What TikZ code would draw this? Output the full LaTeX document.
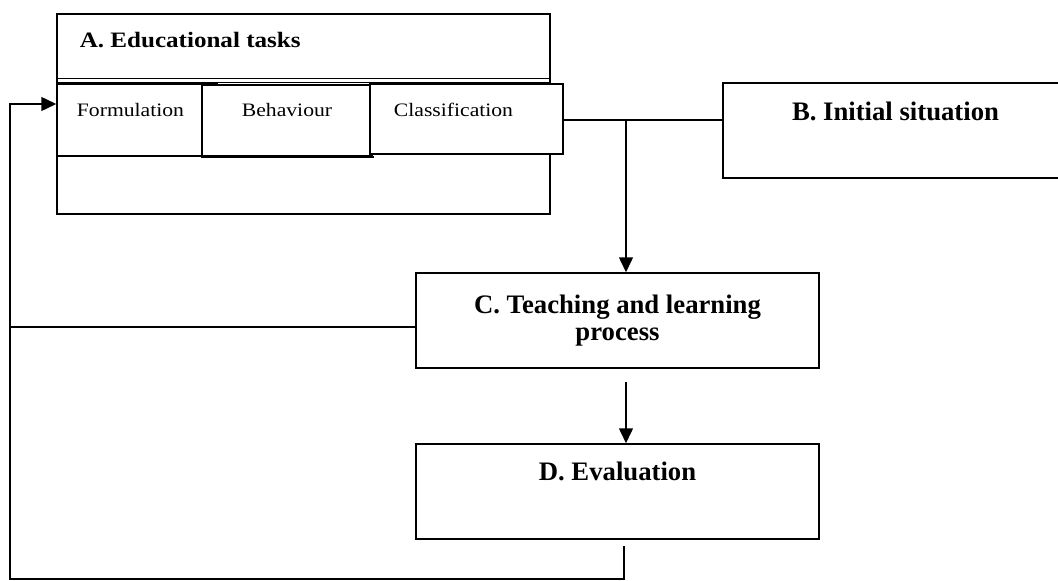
\documentclass[tikz,border=0pt]{standalone}
\usepackage{fontspec}
\setmainfont{Liberation Serif}
\newfontfamily\palfont[FakeStretch=1.14]{Liberation Serif}
\usetikzlibrary{arrows.meta,calc}

\begin{document}
\begin{tikzpicture}[x=1pt,y=-1pt,line width=1.5pt,
  box/.style={draw,rectangle,inner sep=0pt},
  arr/.style={-{Triangle[length=15pt,width=14pt]}},
  headtxt/.style={font=\bfseries\fontsize{26.7}{27}\selectfont,align=center,inner sep=0pt},
  titletxt/.style={font=\palfont\bfseries\fontsize{22}{24}\selectfont,inner sep=0pt},
  subtxt/.style={font=\palfont\fontsize{19}{21}\selectfont,inner sep=0pt}]
\useasboundingbox (0,0) rectangle (1058,581);
\clip (0,0) rectangle (1058,581);

% A: educational tasks
\node[box,minimum width=493,minimum height=200] (A) at (303.5,114) {};
\draw[line width=1pt] (A.west |- 0,78.5) -- (A.east |- 0,78.5);
\draw[line width=1pt] (A.west |- 0,82.5) -- (A.east |- 0,82.5);
\node[titletxt,anchor=base west] (Atxt) at (79,47) {A. Educational tasks};

\node[box,minimum width=145,minimum height=72] (form) at (129.5,120) {};
\draw (form.north west) -- ++(162,0);
\node[box,minimum width=170,minimum height=71] (behav) at (287,120.5) {};
\draw (behav.south west) -- ++(173,0);
\node[box,fill=white,minimum width=193,minimum height=70] (classif) at (466.5,119) {};
\node[subtxt,anchor=base] (formtxt) at (130.5,116) {Formulation};
\node[subtxt,anchor=base] (behavtxt) at (287,116) {Behaviour};
\node[subtxt,anchor=base] (classiftxt) at (453.5,116) {Classification};

% B, C, D
\node[box,minimum width=339,minimum height=95] (B) at (892.5,130.5) {};
\node[headtxt,anchor=base] (Btxt) at (895.5,120) {B. Initial situation};
\node[box,minimum width=403,minimum height=95] (C) at (617.5,320.5) {};
\node[headtxt,anchor=base] (Ctxt) at (617.5,340) {C. Teaching and learning\\process};
\node[box,minimum width=403,minimum height=95] (D) at (617.5,491.5) {};
\node[headtxt,anchor=base] (Dtxt) at (617.5,480) {D. Evaluation};

% connectors
\coordinate (jn) at (626,120);
\coordinate (cd) at (626,382);
\coordinate (dl) at (624,546);
\coordinate (lpbot) at (10,579);
\coordinate (lptop) at (10,104);
\draw (classif.east |- jn) -- (B.west |- jn);
\draw[arr] (jn) -- (jn |- C.north);
\draw[arr] (cd) -- (cd |- D.north);
\draw[arr] (dl) -- (dl |- lpbot) -- (lpbot) -- (lptop) -- (form.west |- lptop);
\draw (C.west |- 0,327) -- (lpbot |- 0,327);
\end{tikzpicture}
\end{document}
